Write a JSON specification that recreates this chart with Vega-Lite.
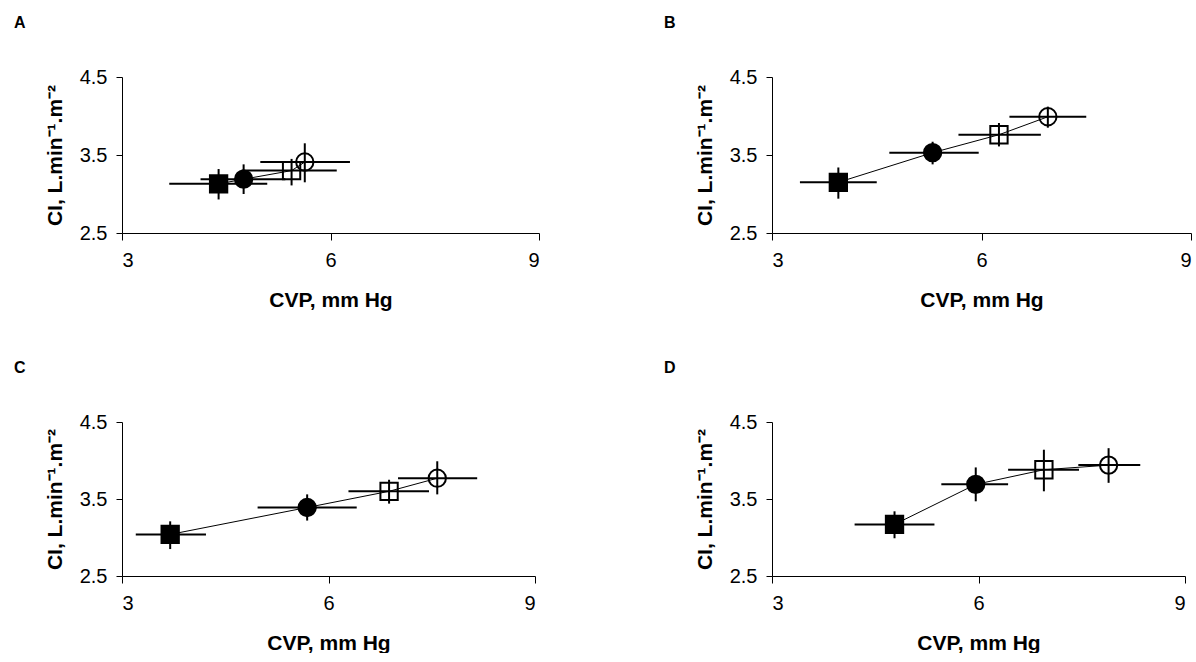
{
  "$schema": "https://vega.github.io/schema/vega-lite/v6.json",
  "background": "white",
  "padding": {"left": 14, "top": 15, "right": 0, "bottom": 0},
  "data": {
    "values": [
      {"panel": "A", "g": "g1", "cvp": 4.39, "ci": 3.13, "xlo": 3.68, "xhi": 5.09, "ylo": 2.93, "yhi": 3.32},
      {"panel": "A", "g": "g2", "cvp": 4.75, "ci": 3.19, "xlo": 4.13, "xhi": 5.35, "ylo": 3.0, "yhi": 3.38},
      {"panel": "A", "g": "g3", "cvp": 5.44, "ci": 3.3, "xlo": 4.72, "xhi": 6.09, "ylo": 3.11, "yhi": 3.45},
      {"panel": "A", "g": "g4", "cvp": 5.63, "ci": 3.41, "xlo": 4.99, "xhi": 6.28, "ylo": 3.15, "yhi": 3.65},
      {"panel": "B", "g": "g1", "cvp": 3.95, "ci": 3.15, "xlo": 3.4, "xhi": 4.5, "ylo": 2.94, "yhi": 3.34},
      {"panel": "B", "g": "g2", "cvp": 5.3, "ci": 3.53, "xlo": 4.68, "xhi": 5.96, "ylo": 3.38, "yhi": 3.67},
      {"panel": "B", "g": "g3", "cvp": 6.25, "ci": 3.76, "xlo": 5.67, "xhi": 6.85, "ylo": 3.61, "yhi": 3.91},
      {"panel": "B", "g": "g4", "cvp": 6.95, "ci": 3.99, "xlo": 6.4, "xhi": 7.5, "ylo": 3.85, "yhi": 4.12},
      {"panel": "C", "g": "g1", "cvp": 3.7, "ci": 3.04, "xlo": 3.2, "xhi": 4.22, "ylo": 2.85, "yhi": 3.21},
      {"panel": "C", "g": "g2", "cvp": 5.69, "ci": 3.39, "xlo": 4.97, "xhi": 6.41, "ylo": 3.22, "yhi": 3.56},
      {"panel": "C", "g": "g3", "cvp": 6.88, "ci": 3.6, "xlo": 6.29, "xhi": 7.46, "ylo": 3.44, "yhi": 3.75},
      {"panel": "C", "g": "g4", "cvp": 7.58, "ci": 3.77, "xlo": 7.01, "xhi": 8.16, "ylo": 3.56, "yhi": 3.99},
      {"panel": "D", "g": "g1", "cvp": 4.78, "ci": 3.17, "xlo": 4.2, "xhi": 5.36, "ylo": 2.99, "yhi": 3.34},
      {"panel": "D", "g": "g2", "cvp": 5.96, "ci": 3.69, "xlo": 5.46, "xhi": 6.43, "ylo": 3.47, "yhi": 3.91},
      {"panel": "D", "g": "g3", "cvp": 6.95, "ci": 3.88, "xlo": 6.43, "xhi": 7.46, "ylo": 3.6, "yhi": 4.14},
      {"panel": "D", "g": "g4", "cvp": 7.89, "ci": 3.94, "xlo": 7.45, "xhi": 8.35, "ylo": 3.71, "yhi": 4.16}
    ]
  },
  "columns": 2,
  "spacing": {"row": 189, "column": 233},
  "bounds": "flush",
  "config": {
    "view": {"stroke": null},
    "font": "Liberation Sans",
    "axis": {
      "grid": false,
      "domainColor": "black",
      "tickColor": "black",
      "labelColor": "black",
      "titleColor": "black",
      "labelFont": "Liberation Sans",
      "titleFont": "Liberation Sans",
      "labelFontSize": 20,
      "titleFontSize": 21,
      "titleFontWeight": "bold",
      "domainWidth": 1,
      "tickWidth": 1
    },
    "axisX": {"tickSize": 7, "labelPadding": 10, "titlePadding": 19},
    "axisY": {"tickSize": 6, "labelPadding": 9, "titlePadding": 14},
    "title": {"anchor": "start", "frame": "group", "dx": -108, "offset": 36, "fontSize": 16, "fontWeight": "bold", "color": "black", "font": "Liberation Sans"}
  },
  "concat": [
    {
      "title": "A",
      "width": 417, "height": 156,
      "transform": [{"filter": "datum.panel == 'A'"}],
      "layer": [
        {"mark": {"type": "line", "color": "black", "strokeWidth": 1}, "encoding": {"x": {"field": "cvp", "type": "quantitative", "scale": {"domain": [3, 9], "nice": false, "zero": false}, "axis": {"values": [3, 6, 9], "format": "d", "title": "CVP, mm Hg"}}, "y": {"field": "ci", "type": "quantitative", "scale": {"domain": [2.5, 4.5], "nice": false, "zero": false}, "axis": {"values": [2.5, 3.5, 4.5], "format": ".1f", "title": "CI, L.min⁻¹.m⁻²"}}, "order": {"field": "g"}}},
        {"mark": {"type": "rule", "color": "black", "strokeWidth": 2}, "encoding": {"x": {"field": "xlo", "type": "quantitative"}, "x2": {"field": "xhi"}, "y": {"field": "ci", "type": "quantitative"}}},
        {"mark": {"type": "rule", "color": "black", "strokeWidth": 2}, "encoding": {"x": {"field": "cvp", "type": "quantitative"}, "y": {"field": "ylo", "type": "quantitative"}, "y2": {"field": "yhi"}}},
        {"mark": {"type": "point", "filled": true, "stroke": "black", "strokeWidth": 2, "size": 300, "opacity": 1}, "encoding": {"x": {"field": "cvp", "type": "quantitative"}, "y": {"field": "ci", "type": "quantitative"}, "shape": {"field": "g", "type": "nominal", "scale": {"domain": ["g1", "g2", "g3", "g4"], "range": ["square", "circle", "square", "circle"]}, "legend": null}, "fill": {"field": "g", "type": "nominal", "scale": {"domain": ["g1", "g2", "g3", "g4"], "range": ["black", "black", "transparent", "transparent"]}, "legend": null}}}
      ]
    },
    {
      "title": "B",
      "width": 419, "height": 156,
      "transform": [{"filter": "datum.panel == 'B'"}],
      "layer": [
        {"mark": {"type": "line", "color": "black", "strokeWidth": 1}, "encoding": {"x": {"field": "cvp", "type": "quantitative", "scale": {"domain": [3, 9], "nice": false, "zero": false}, "axis": {"values": [3, 6, 9], "format": "d", "title": "CVP, mm Hg"}}, "y": {"field": "ci", "type": "quantitative", "scale": {"domain": [2.5, 4.5], "nice": false, "zero": false}, "axis": {"values": [2.5, 3.5, 4.5], "format": ".1f", "title": "CI, L.min⁻¹.m⁻²"}}, "order": {"field": "g"}}},
        {"mark": {"type": "rule", "color": "black", "strokeWidth": 2}, "encoding": {"x": {"field": "xlo", "type": "quantitative"}, "x2": {"field": "xhi"}, "y": {"field": "ci", "type": "quantitative"}}},
        {"mark": {"type": "rule", "color": "black", "strokeWidth": 2}, "encoding": {"x": {"field": "cvp", "type": "quantitative"}, "y": {"field": "ylo", "type": "quantitative"}, "y2": {"field": "yhi"}}},
        {"mark": {"type": "point", "filled": true, "stroke": "black", "strokeWidth": 2, "size": 300, "opacity": 1}, "encoding": {"x": {"field": "cvp", "type": "quantitative"}, "y": {"field": "ci", "type": "quantitative"}, "shape": {"field": "g", "type": "nominal", "scale": {"domain": ["g1", "g2", "g3", "g4"], "range": ["square", "circle", "square", "circle"]}, "legend": null}, "fill": {"field": "g", "type": "nominal", "scale": {"domain": ["g1", "g2", "g3", "g4"], "range": ["black", "black", "transparent", "transparent"]}, "legend": null}}}
      ]
    },
    {
      "title": "C",
      "width": 413, "height": 154,
      "transform": [{"filter": "datum.panel == 'C'"}],
      "layer": [
        {"mark": {"type": "line", "color": "black", "strokeWidth": 1}, "encoding": {"x": {"field": "cvp", "type": "quantitative", "scale": {"domain": [3, 9], "nice": false, "zero": false}, "axis": {"values": [3, 6, 9], "format": "d", "title": "CVP, mm Hg"}}, "y": {"field": "ci", "type": "quantitative", "scale": {"domain": [2.5, 4.5], "nice": false, "zero": false}, "axis": {"values": [2.5, 3.5, 4.5], "format": ".1f", "title": "CI, L.min⁻¹.m⁻²"}}, "order": {"field": "g"}}},
        {"mark": {"type": "rule", "color": "black", "strokeWidth": 2}, "encoding": {"x": {"field": "xlo", "type": "quantitative"}, "x2": {"field": "xhi"}, "y": {"field": "ci", "type": "quantitative"}}},
        {"mark": {"type": "rule", "color": "black", "strokeWidth": 2}, "encoding": {"x": {"field": "cvp", "type": "quantitative"}, "y": {"field": "ylo", "type": "quantitative"}, "y2": {"field": "yhi"}}},
        {"mark": {"type": "point", "filled": true, "stroke": "black", "strokeWidth": 2, "size": 300, "opacity": 1}, "encoding": {"x": {"field": "cvp", "type": "quantitative"}, "y": {"field": "ci", "type": "quantitative"}, "shape": {"field": "g", "type": "nominal", "scale": {"domain": ["g1", "g2", "g3", "g4"], "range": ["square", "circle", "square", "circle"]}, "legend": null}, "fill": {"field": "g", "type": "nominal", "scale": {"domain": ["g1", "g2", "g3", "g4"], "range": ["black", "black", "transparent", "transparent"]}, "legend": null}}}
      ]
    },
    {
      "title": "D",
      "width": 413, "height": 154,
      "transform": [{"filter": "datum.panel == 'D'"}],
      "layer": [
        {"mark": {"type": "line", "color": "black", "strokeWidth": 1}, "encoding": {"x": {"field": "cvp", "type": "quantitative", "scale": {"domain": [3, 9], "nice": false, "zero": false}, "axis": {"values": [3, 6, 9], "format": "d", "title": "CVP, mm Hg"}}, "y": {"field": "ci", "type": "quantitative", "scale": {"domain": [2.5, 4.5], "nice": false, "zero": false}, "axis": {"values": [2.5, 3.5, 4.5], "format": ".1f", "title": "CI, L.min⁻¹.m⁻²"}}, "order": {"field": "g"}}},
        {"mark": {"type": "rule", "color": "black", "strokeWidth": 2}, "encoding": {"x": {"field": "xlo", "type": "quantitative"}, "x2": {"field": "xhi"}, "y": {"field": "ci", "type": "quantitative"}}},
        {"mark": {"type": "rule", "color": "black", "strokeWidth": 2}, "encoding": {"x": {"field": "cvp", "type": "quantitative"}, "y": {"field": "ylo", "type": "quantitative"}, "y2": {"field": "yhi"}}},
        {"mark": {"type": "point", "filled": true, "stroke": "black", "strokeWidth": 2, "size": 300, "opacity": 1}, "encoding": {"x": {"field": "cvp", "type": "quantitative"}, "y": {"field": "ci", "type": "quantitative"}, "shape": {"field": "g", "type": "nominal", "scale": {"domain": ["g1", "g2", "g3", "g4"], "range": ["square", "circle", "square", "circle"]}, "legend": null}, "fill": {"field": "g", "type": "nominal", "scale": {"domain": ["g1", "g2", "g3", "g4"], "range": ["black", "black", "transparent", "transparent"]}, "legend": null}}}
      ]
    }
  ]
}
